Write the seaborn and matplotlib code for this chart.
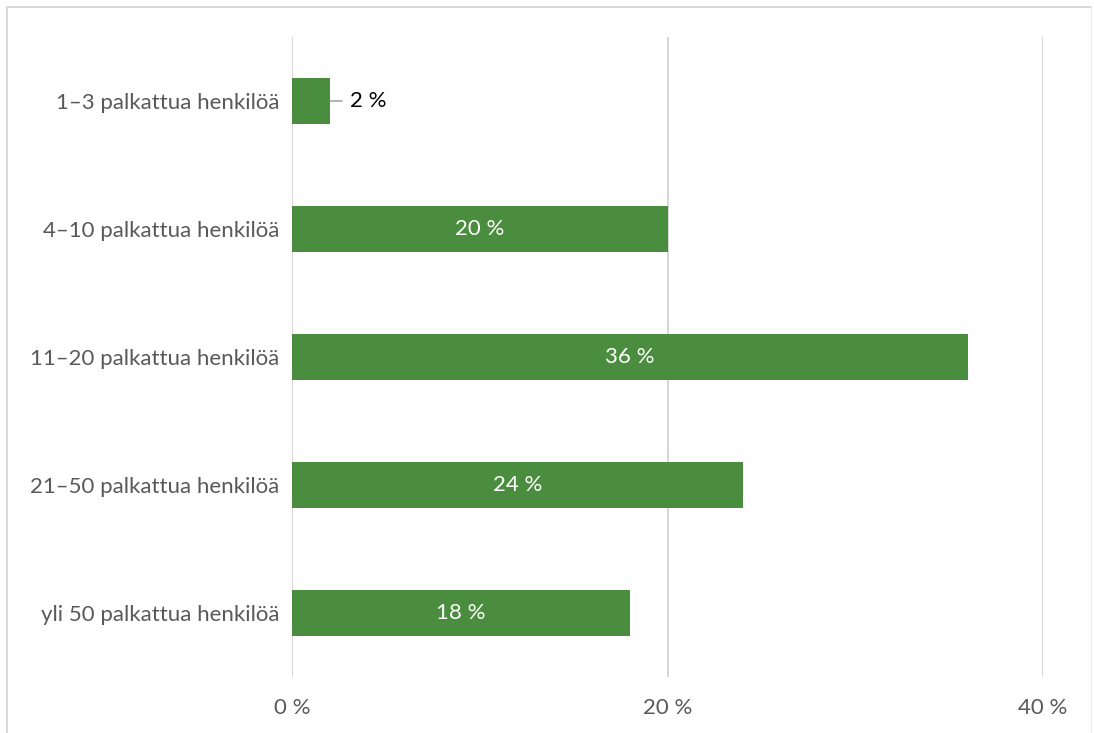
import matplotlib
matplotlib.use("Agg")
import matplotlib.pyplot as plt
import seaborn as sns
import pandas as pd
from matplotlib.lines import Line2D

categories = ["1–3 palkattua henkilöä", "4–10 palkattua henkilöä", "11–20 palkattua henkilöä",
              "21–50 palkattua henkilöä", "yli 50 palkattua henkilöä"]
values = [2, 20, 36, 24, 18]
xticks = [0, 20, 40]
xticklabels = ["0 %", "20 %", "40 %"]

sns.set_theme(style="white")
plt.rcParams['font.family'] = ['Lato', 'DejaVu Sans']

df = pd.DataFrame({"cat": categories, "val": values})

W, H = 1094, 733
fig = plt.figure(figsize=(W / 100, H / 100), dpi=100)
ax = fig.add_axes([292 / W, 1 - 677 / H, (1043 - 292) / W, (677 - 37) / H])

sns.barplot(data=df, x="val", y="cat", color="#4B8D3F", saturation=1, width=0.36, ax=ax,
            zorder=3, linewidth=0)

FS = 16
ax.set_xlim(0, 40)
ax.set_ylim(4.5, -0.5)
ax.set_xticks(xticks)
ax.set_xticklabels(xticklabels)
ax.set_xlabel("")
ax.set_ylabel("")
for s in ax.spines.values():
    s.set_visible(False)
ax.grid(axis="x", color="#D0D0D0", linewidth=1.2, zorder=0)
ax.grid(axis="y", visible=False)
ax.tick_params(axis="x", colors="#595959", labelsize=FS, length=0, pad=15)
ax.tick_params(axis="y", colors="#595959", labelsize=FS, length=0, pad=9)
for lbl in ax.get_xticklabels() + ax.get_yticklabels():
    lbl.set_color("#595959")

for i, v in enumerate(values):
    if v < 5:
        ax.plot([v + 0.0, v + 0.65], [i, i], color="#A6A6A6", lw=1.2, zorder=4)
        ax.text(v + 1.1, i, f"{v} %", ha="left", va="center", color="#000000", fontsize=FS)
    else:
        ax.text(v / 2, i, f"{v} %", ha="center", va="center", color="white", fontsize=FS)

# outer frame
fc = "#D9D9D9"
fig.add_artist(Line2D([7 / W, 1091 / W], [1 - 7 / H, 1 - 7 / H], color=fc, lw=1.5, transform=fig.transFigure))
fig.add_artist(Line2D([7 / W, 7 / W], [1 - 7 / H, 0], color=fc, lw=1.5, transform=fig.transFigure))
fig.add_artist(Line2D([1091 / W, 1091 / W], [1 - 7 / H, 0], color="#EEEEEE", lw=1, transform=fig.transFigure))

fig.savefig("out.png", dpi=100)
